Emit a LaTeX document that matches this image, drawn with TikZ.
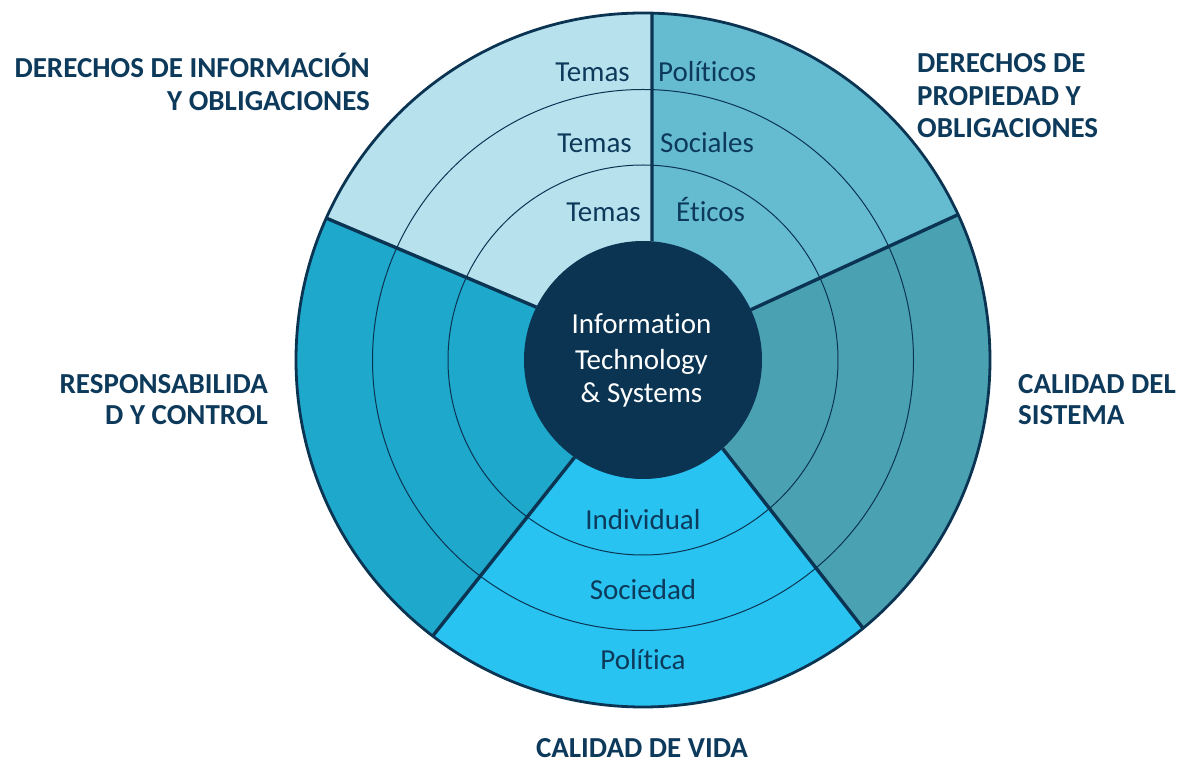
\documentclass[tikz,border=0pt]{standalone}
\usepackage{fontspec}
\setmainfont[Ligatures=NoCommon]{Carlito}
\definecolor{secA}{HTML}{B8E1EE}
\definecolor{secB}{HTML}{65BCD1}
\definecolor{secC}{HTML}{4AA1B2}
\definecolor{secD}{HTML}{29C3F1}
\definecolor{secE}{HTML}{1EA8CB}
\definecolor{corecol}{HTML}{0A3452}
\definecolor{navy}{HTML}{0B3453}
\definecolor{txtcol}{HTML}{0D3A5B}
\tikzset{
  ringline/.style={draw=navy, line width=1pt},
  divider/.style={draw=navy, line width=3.4pt},
  rimline/.style={draw=navy, line width=2.8pt},
  ringtext/.style={inner sep=0pt, text=txtcol, font=\fontsize{29}{35}\selectfont},
  coretext/.style={inner sep=0pt, text=white, font=\fontsize{29}{35}\selectfont},
  headtext/.style={inner sep=0pt, text=txtcol, font=\fontsize{29}{33}\selectfont\bfseries},
}
\begin{document}
\begin{tikzpicture}[x=1pt,y=1pt]
\useasboundingbox (-643,-402) rectangle (542,360);
% divider end points
\coordinate (d1i) at (85.66:119);  \coordinate (d1o) at (88.51:347);
\coordinate (d2i) at (153.63:119); \coordinate (d2o) at (155.87:347);
\coordinate (d3i) at (234.9:119);  \coordinate (d3o) at (232.7:347);
\coordinate (d4i) at (311.96:119); \coordinate (d4o) at (309.37:347);
\coordinate (d5i) at (25:119);     \coordinate (d5o) at (24.77:347);
% sectors
\fill[secA] (d1i) -- (d1o) arc[start angle=88.51, end angle=155.87, radius=347] -- (d2i) -- (0,0) -- cycle;
\fill[secE] (d2i) -- (d2o) arc[start angle=155.87, end angle=232.7, radius=347] -- (d3i) -- (0,0) -- cycle;
\fill[secD] (d3i) -- (d3o) arc[start angle=232.7, end angle=309.37, radius=347] -- (d4i) -- (0,0) -- cycle;
\fill[secC] (d4i) -- (d4o) arc[start angle=309.37, end angle=384.77, radius=347] -- (d5i) -- (0,0) -- cycle;
\fill[secB] (d5i) -- (d5o) arc[start angle=24.77, end angle=88.51, radius=347] -- (d1i) -- (0,0) -- cycle;
% rings
\draw[ringline] (0,0) circle[radius=195];
\draw[ringline] (0,0) circle[radius=270.5];
% dividers
\draw[divider] (d1i) -- (d1o);
\draw[divider] (d2i) -- (d2o);
\draw[divider] (d3i) -- (d3o);
\draw[divider] (d4i) -- (d4o);
\draw[divider] (d5i) -- (d5o);
% rim
\draw[rimline] (0,0) circle[radius=347];
% core
\node[circle, fill=corecol, minimum size=238pt, inner sep=0pt] (core) at (0,0) {};
\node[coretext, anchor=base] (c1) at (-1.5,26) {Information};
\node[coretext, anchor=base] (c2) at (-1.5,-10) {Technology};
\node[coretext, anchor=base] (c3) at (-1.5,-43) {\& Systems};
% ring texts top
\node[ringtext, anchor=base east] (t1) at (-13,278) {Temas};
\node[ringtext, anchor=base west] (p1) at (15,278) {Políticos};
\node[ringtext, anchor=base east] (t2) at (-11,207) {Temas};
\node[ringtext, anchor=base west] (p2) at (17,207) {Sociales};
\node[ringtext, anchor=base east] (t3) at (-2,138) {Temas};
\node[ringtext, anchor=base west] (p3) at (33,138) {Éticos};
% ring texts bottom
\node[ringtext, anchor=base] (b1) at (0,-169) {Individual};
\node[ringtext, anchor=base] (b2) at (0,-239) {Sociedad};
\node[ringtext, anchor=base] (b3) at (0,-309) {Política};
% headings
\node[headtext, anchor=base east] (h1a) at (-273,282) {DERECHOS DE INFORMACIÓN};
\node[headtext, anchor=base east] (h1b) at (-273,249) {Y OBLIGACIONES};
\node[headtext, anchor=base west] (h2a) at (274,287) {DERECHOS DE};
\node[headtext, anchor=base west] (h2b) at (274,254.5) {PROPIEDAD Y};
\node[headtext, anchor=base west] (h2c) at (274,222) {OBLIGACIONES};
\node[headtext, anchor=base east] (h3a) at (-375,-34) {RESPONSABILIDA};
\node[headtext, anchor=base east] (h3b) at (-375,-65) {D Y CONTROL};
\node[headtext, anchor=base west] (h4a) at (375,-34) {CALIDAD DEL};
\node[headtext, anchor=base west] (h4b) at (375,-65) {SISTEMA};
\node[headtext, anchor=base] (h5) at (-1,-397) {CALIDAD DE VIDA};
\end{tikzpicture}
\end{document}
